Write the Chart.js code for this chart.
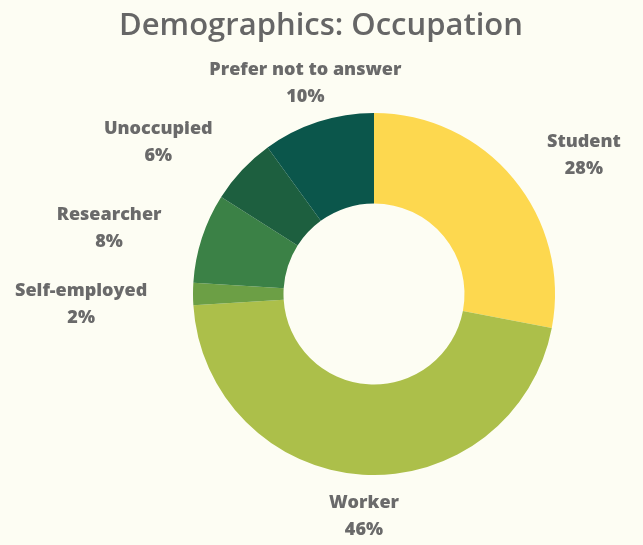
<!DOCTYPE html>
<html>
<head>
<meta charset="utf-8">
<title>Demographics: Occupation</title>
<script src="https://cdn.jsdelivr.net/npm/chart.js@4"></script>
<style>
  html, body { margin: 0; padding: 0; background: #fdfdf3; }
  #wrap { width: 643px; height: 545px; }
</style>
</head>
<body>
<div id="wrap"><canvas id="occupationChart"></canvas></div>
<script>
// Occupation breakdown, clockwise from 12 o'clock
const categories = ["Student", "Worker", "Self-employed", "Researcher", "Unoccupied", "Prefer not to answer"];
const shares     = [28, 46, 2, 8, 6, 10];
const sliceColors = ["#fdd84f", "#acbf4a", "#6c9f45", "#3b8146", "#1d5f3f", "#0b564b"];

// where each label sits: [degrees shifted from slice middle, distance from centre]
const labelSpots = [[6, 252], [-1, 222], [-2, 293], [-4, 273], [-8, 264], [0, 222]];

(function () {
  const canvas = document.getElementById("occupationChart");

  const sliceLabels = {
    id: "sliceLabels",
    afterDraw(chart) {
      const { ctx } = chart;
      const meta = chart.getDatasetMeta(0);
      ctx.save();
      ctx.fillStyle = "#6a6a6a";
      ctx.textAlign = "center";
      ctx.textBaseline = "middle";
      ctx.font = "800 18px 'Open Sans'";
      meta.data.forEach((arc, i) => {
        const p = arc.getProps(["x", "y", "startAngle", "endAngle"], true);
        const [shift, dist] = labelSpots[i];
        const a = (p.startAngle + p.endAngle) / 2 + shift * Math.PI / 180;
        const x = p.x + Math.cos(a) * dist;
        const y = p.y + Math.sin(a) * dist;
        ctx.fillText(categories[i], x, y - 13);
        ctx.fillText(shares[i] + "%", x, y + 14);
      });

      // heading
      ctx.font = "600 31px 'Open Sans'";
      ctx.fillStyle = "#666666";
      ctx.fillText("Demographics: Occupation", 321, 26);
      ctx.restore();
    }
  };

  new Chart(canvas, {
    type: "doughnut",
    data: {
      labels: categories,
      datasets: [{
        data: shares,
        backgroundColor: sliceColors,
        borderWidth: 0
      }]
    },
    options: {
      responsive: true,
      maintainAspectRatio: false,
      animation: false,
      cutout: "50%",
      layout: { padding: { left: 193, right: 88, top: 113, bottom: 70 } },
      plugins: {
        legend: { display: false },
        tooltip: { enabled: false }
      }
    },
    plugins: [sliceLabels]
  });
})();
</script>
</body>
</html>
